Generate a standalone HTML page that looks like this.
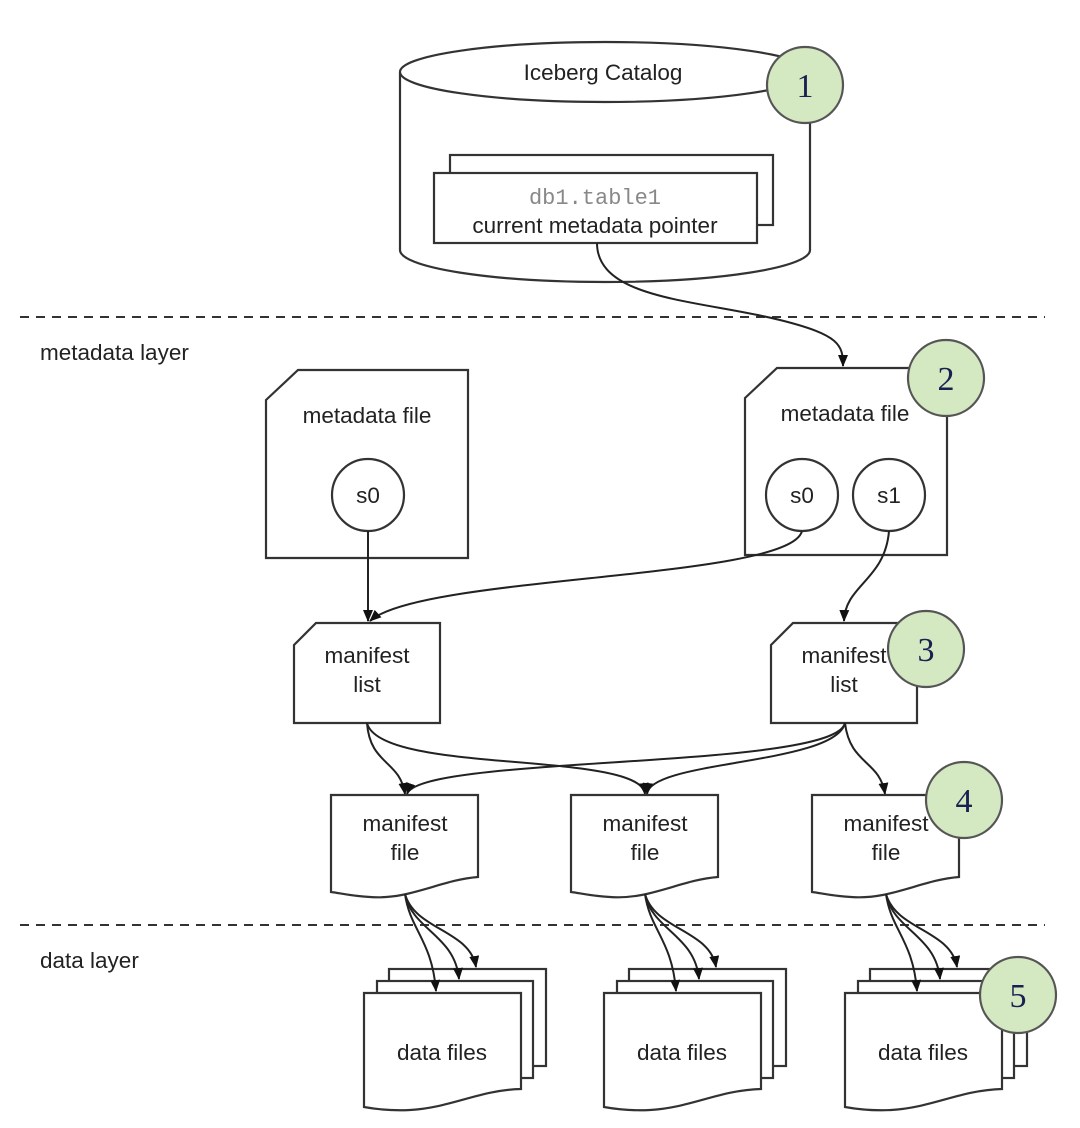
<!DOCTYPE html>
<html><head><meta charset="utf-8"><style>
html,body{margin:0;padding:0;background:#fff;}
svg{display:block;}
text{font-family:"Liberation Sans",sans-serif;font-size:22.5px;fill:#222;text-anchor:middle;}
.s{fill:#fff;stroke:#333;stroke-width:2.2;}
.c{fill:#d4e8c2;stroke:#555;stroke-width:2.2;}
.n{font-family:"Liberation Serif",serif;font-size:34px;fill:#1a2050;}
.l{fill:none;stroke:#222;stroke-width:2;}
</style></head><body>
<svg width="1080" height="1128" viewBox="0 0 1080 1128">
<defs>
<marker id="b" markerWidth="12" markerHeight="10" refX="11" refY="5" orient="auto" markerUnits="userSpaceOnUse"><path d="M0,0 L12,5 L0,10 z" fill="#111"/></marker></defs>

<!-- cylinder -->
<path class="s" d="M400,72 L400,250 A205,32 0 0 0 810,250 L810,72"/>
<ellipse class="s" cx="605" cy="72" rx="205" ry="30"/>
<text x="603" y="80">Iceberg Catalog</text>
<rect class="s" x="450" y="155" width="323" height="70"/>
<rect class="s" x="434" y="173" width="323" height="70"/>
<text x="595" y="204" style="font-family:'Liberation Mono',monospace;fill:#888;font-size:22px">db1.table1</text>
<text x="595" y="233">current metadata pointer</text>
<circle class="c" cx="805" cy="85" r="38"/><text class="n" x="805" y="97">1</text>

<line x1="20" y1="317" x2="1045" y2="317" stroke="#333" stroke-width="2" stroke-dasharray="9,7"/>
<line x1="20" y1="925" x2="1045" y2="925" stroke="#333" stroke-width="2" stroke-dasharray="9,7"/>
<text x="40" y="360" style="text-anchor:start">metadata layer</text>
<text x="40" y="968" style="text-anchor:start">data layer</text>

<path class="l" d="M597,243 C597,300 700,300 780,320 C840,335 843,345 843,366" marker-end="url(#b)"/>

<!-- metadata files -->
<path class="s" d="M266,400 L298,370 L468,370 L468,558 L266,558 Z"/>
<text x="367" y="423">metadata file</text>
<circle class="s" cx="368" cy="495" r="36"/><text x="368" y="503">s0</text>
<path class="s" d="M745,398 L777,368 L947,368 L947,555 L745,555 Z"/>
<text x="845" y="421">metadata file</text>
<circle class="s" cx="802" cy="495" r="36"/><text x="802" y="503">s0</text>
<circle class="s" cx="889" cy="495" r="36"/><text x="889" y="503">s1</text>
<circle class="c" cx="946" cy="378" r="38"/><text class="n" x="946" y="390">2</text>

<path class="l" d="M368,531 L368,621" marker-end="url(#b)"/>
<path class="l" d="M802,531 C790,580 420,575 370,621" marker-end="url(#b)"/>
<path class="l" d="M889,531 C885,580 845,585 844,621" marker-end="url(#b)"/>

<!-- manifest lists -->
<path class="s" d="M294,645 L316,623 L440,623 L440,723 L294,723 Z"/>
<text x="367" y="663">manifest</text><text x="367" y="692">list</text>
<path class="s" d="M771,645 L793,623 L917,623 L917,723 L771,723 Z"/>
<text x="844" y="663">manifest</text><text x="844" y="692">list</text>
<circle class="c" cx="926" cy="649" r="38"/><text class="n" x="926" y="661">3</text>

<path class="l" d="M367,723 C370,765 400,760 405,794" marker-end="url(#b)"/>
<path class="l" d="M367,723 C380,775 640,750 645,794" marker-end="url(#b)"/>
<path class="l" d="M845,723 C835,770 420,755 407,794" marker-end="url(#b)"/>
<path class="l" d="M845,723 C835,765 650,760 647,794" marker-end="url(#b)"/>
<path class="l" d="M845,723 C850,765 880,760 885,794" marker-end="url(#b)"/>

<!-- manifest files -->
<g id="mf">
<path class="s" d="M331,795 L478,795 L478,877 C440,880 410,900 370,897 C350,896 340,893 331,892 Z"/>
<text x="405" y="831">manifest</text><text x="405" y="860">file</text>
</g>
<g id="df">
<rect class="s" x="389" y="969" width="157" height="97"/>
<rect class="s" x="377" y="981" width="156" height="97"/>
<path class="s" d="M364,993 L521,993 L521,1089 C480,1090 450,1108 410,1110 C390,1111 375,1109 364,1107 Z"/>
<text x="442" y="1060">data files</text>
</g>
<g id="ar">
<path class="l" d="M405,894 C410,930 432,940 436,991" marker-end="url(#b)"/>
<path class="l" d="M405,894 C412,930 455,935 459,979" marker-end="url(#b)"/>
<path class="l" d="M405,894 C415,930 470,930 476,967" marker-end="url(#b)"/>
</g>
<use href="#mf" x="240"/><use href="#df" x="240"/><use href="#ar" x="240"/>
<use href="#mf" x="481"/><use href="#df" x="481"/><use href="#ar" x="481"/>
<circle class="c" cx="964" cy="800" r="38"/><text class="n" x="964" y="812">4</text>
<circle class="c" cx="1018" cy="995" r="38"/><text class="n" x="1018" y="1007">5</text>
</svg>
</body></html>
